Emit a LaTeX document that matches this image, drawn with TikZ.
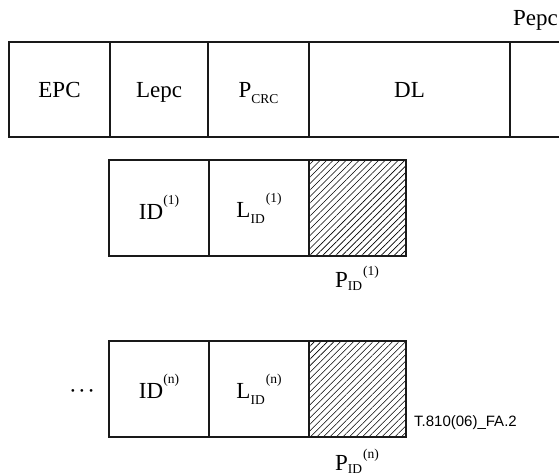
\documentclass[tikz,border=0pt]{standalone}
\usepackage{fontspec}
\setmainfont{Liberation Serif}
\newfontfamily\tagsans{Liberation Sans}
\usetikzlibrary{patterns.meta}
\newcommand\lsub[1]{\raisebox{-6pt}{\fontsize{13.5}{15}\selectfont #1}}
\newcommand\lsup[1]{\raisebox{15pt}{\fontsize{13.5}{15}\selectfont #1}}
\begin{document}
\begin{tikzpicture}[x=1pt,y=-1pt,
  cell/.style={draw=black!90,line width=1.9pt,inner sep=0pt,minimum height=95pt},
  hatched/.style={cell,pattern={Lines[angle=45,distance=4.6pt,line width=0.6pt]}},
  txt/.style={inner sep=0pt,anchor=base,font=\fontsize{23}{26}\selectfont},
]
\useasboundingbox (0,0) rectangle (559,474);
\clip (0,0) rectangle (559,474);
% top row
\node[cell,minimum width=101pt] (epc)  at (59.5,89.5) {};
\node[cell,minimum width=98pt]  (lepc) at (159,89.5) {};
\node[cell,minimum width=101pt] (pcrc) at (258.5,89.5) {};
\node[cell,minimum width=201pt] (dl)   at (409.5,89.5) {};
\node[cell,minimum width=120pt] (pepc) at (570,89.5) {};
\node[txt] (tepc)  at ([yshift=-8pt]epc.center) {EPC};
\node[txt] (tlepc) at ([yshift=-8pt]lepc.center) {Lepc};
\node[txt] (tpcrc) at ([yshift=-8pt]pcrc.center) {P\lsub{CRC}};
\node[txt] (tdl)   at ([yshift=-8pt]dl.center) {DL};
\node[txt,anchor=base east] (tpepc) at (558,25) {Pepc};
% middle row
\node[cell,minimum width=100pt,minimum height=96pt] (id1) at (159,208) {};
\node[cell,minimum width=100pt,minimum height=96pt] (l1)  at (259,208) {};
\node[hatched,minimum width=97pt,minimum height=96pt] (p1) at (357.5,208) {};
\node[txt] (tid1) at ([yshift=-11pt]id1.center) {ID\lsup{(1)}};
\node[txt] (tl1)  at ([yshift=-9pt]l1.center) {L\lsub{ID}\kern1pt\lsup{(1)}};
\node[txt] (tp1)  at (357,287) {P\lsub{\raisebox{3pt}{ID}}\kern1pt\lsup{\raisebox{-3pt}{(1)}}};
% bottom row
\node[txt] (dots) at (82,398) {·\kern1.5pt·\kern1.5pt·};
\node[cell,minimum width=100pt,minimum height=96pt] (idn) at (159,389) {};
\node[cell,minimum width=100pt,minimum height=96pt] (ln)  at (259,389) {};
\node[hatched,minimum width=97pt,minimum height=96pt] (pn) at (357.5,389) {};
\node[txt] (tidn) at ([yshift=-9pt]idn.center) {ID\lsup{(n)}};
\node[txt] (tln)  at ([yshift=-9pt]ln.center) {L\lsub{ID}\kern1pt\lsup{(n)}};
\node[txt] (tpn)  at (357,470) {P\lsub{\raisebox{3pt}{ID}}\kern1pt\lsup{\raisebox{-3pt}{(n)}}};
\node[inner sep=0pt,anchor=base west,font=\tagsans\fontsize{15}{17}\selectfont] (tag) at (414,426) {T.810(06)\_FA.2};
\end{tikzpicture}
\end{document}
